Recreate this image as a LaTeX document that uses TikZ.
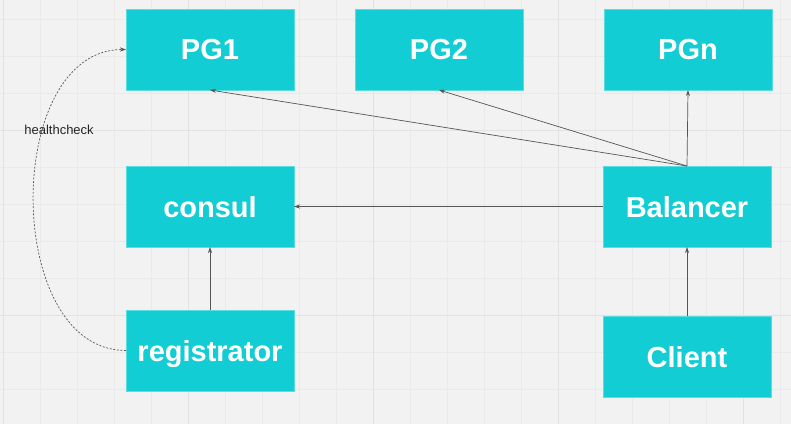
\documentclass[tikz,border=0pt]{standalone}
\usepackage{fontspec}
\setmainfont{Liberation Sans}
\usepackage{tikz}
\usetikzlibrary{positioning,arrows.meta}
\definecolor{boxfill}{HTML}{13CDD4}
\definecolor{boxline}{HTML}{5ADCE1}
\definecolor{canvas}{HTML}{F2F2F2}
\definecolor{gridminor}{HTML}{EAEAEA}
\definecolor{gridmajor}{HTML}{E2E2E2}
\definecolor{wire}{HTML}{555555}

\begin{document}
\begin{tikzpicture}[x=1pt,y=-1pt,
    box/.style={rectangle,fill=boxfill,draw=boxline,line width=0.6pt,
      minimum width=168pt,minimum height=81pt,inner sep=0pt,outer sep=0pt,
      text depth=0pt,text=white,font=\fontsize{29}{32}\selectfont\bfseries},
    arr/.style={draw=wire,line width=0.7pt,-{Stealth[length=6pt,width=4pt]}},
    node distance=76pt and 61pt]
                % canvas and grid
                \fill[canvas] (0,0) rectangle (791,424);
                \useasboundingbox (0,0) rectangle (791,424);
                \foreach \gx in {3,40,...,791} \draw[gridminor,line width=0.6pt] (\gx,0) -- (\gx,424);
                \foreach \gy in {19,56,...,424} \draw[gridminor,line width=0.6pt] (0,\gy) -- (791,\gy);
                \foreach \gx in {3,188,373,558,743} \draw[gridmajor,line width=0.9pt] (\gx,0) -- (\gx,424);
                \foreach \gy in {130,315} \draw[gridmajor,line width=0.9pt] (0,\gy) -- (791,\gy);
                % boxes
                \node [box] (pg1) at (210,49.5) {PG1};
                \node [box,right=61pt of pg1] (pg2) {PG2};
                \node [box,right=81pt of pg2] (pgn) {PGn};
                \node [box,below=76pt of pg1] (consul) {consul};
                \node [box,below=63pt of consul] (registrator) {registrator};
                \node [box,right=309pt of consul] (balancer) {Balancer};
                \node [box,below=69pt of balancer] (client) {Client};
                % connectors
                \draw [arr] (balancer.north) -- (pg1.south);
                \draw [arr] (balancer.north) -- (pg2.south);
                \draw [arr] (balancer.north) -- (pgn.south);
                \draw [arr] (balancer.west) -- (consul.east);
                \draw [arr] (registrator.north) -- (consul.south);
                \draw [arr] (client.north) -- (balancer.south);
                \draw [draw=wire,line width=0.7pt,dash pattern=on 2pt off 1.6pt,-{Stealth[length=6pt,width=4pt]}]
                  (registrator.west) to[out=180,in=180,looseness=1.05]
                  node [pos=0.66,xshift=16pt,text=black!85,font=\fontsize{13}{15}\selectfont] (hc) {healthcheck}
                  (pg1.west);
\end{tikzpicture}
\end{document}
